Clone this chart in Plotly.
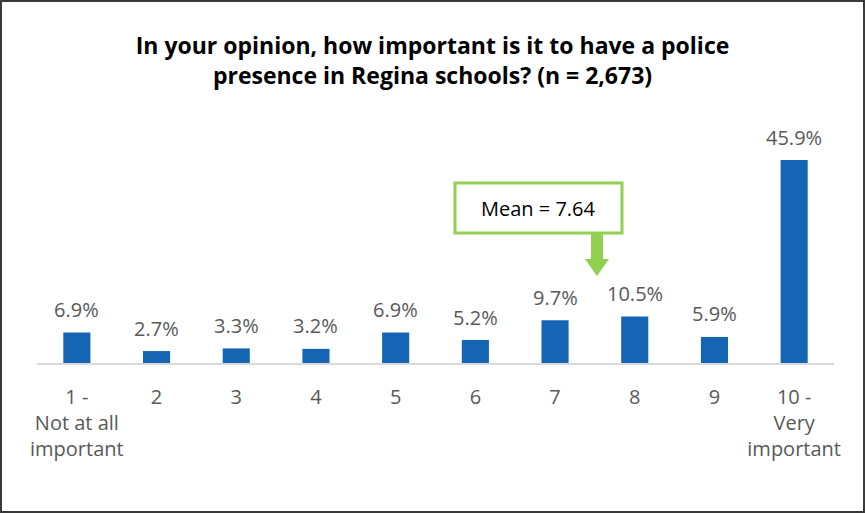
import plotly.graph_objects as go

# Survey responses: share of respondents choosing each rating
categories = ["1 -<br>Not at all<br>important", "2", "3", "4", "5", "6", "7", "8", "9", "10 -<br>Very<br>important"]
percent_values = [6.9, 2.7, 3.3, 3.2, 6.9, 5.2, 9.7, 10.5, 5.9, 45.9]
value_labels = [f"{v:.1f}%" for v in percent_values]
mean_text = "Mean = 7.64"
title_text = "In your opinion, how important is it to have a police<br>presence in Regina schools? (n = 2,673)"

W, H = 865, 514
ML, MR, MT, MB = 37, 31, 142, 151

BAR_BLUE = "#1565B4"
LABEL_GREY = "#595959"
GREEN = "#92D050"
FONT = "Open Sans, sans-serif"

fig = go.Figure()
fig.add_trace(go.Bar(
    x=categories,
    y=percent_values,
    marker=dict(color=BAR_BLUE, line=dict(width=0)),
    hoverinfo="skip",
))


def to_paper(xp, yp):
    return (xp - ML) / (W - ML - MR), 1 - (yp - MT) / (H - MT - MB)


shapes = []
# outer frame
fx0, fy0 = to_paper(1, 1)
fx1, fy1 = to_paper(864, 512)
shapes.append(dict(type="rect", xref="paper", yref="paper", layer="above",
                   x0=fx0, x1=fx1, y0=fy1, y1=fy0,
                   line=dict(color="#3a3a3a", width=2)))

# mean callout box
bx0, by0 = to_paper(455, 183)
bx1, by1 = to_paper(622, 233)
shapes.append(dict(type="rect", xref="paper", yref="paper", x0=bx0, x1=bx1, y0=by1, y1=by0,
                   line=dict(color=GREEN, width=3), fillcolor="white"))

# arrow from the box down towards the mean position
pts = [(591, 234), (603, 234), (603, 259), (609, 259), (597, 276), (585, 259), (591, 259)]
path = ""
for i, (xp, yp) in enumerate(pts):
    px, py = to_paper(xp, yp)
    path += ("M" if i == 0 else "L") + f"{px},{py} "
path += "Z"
shapes.append(dict(type="path", xref="paper", yref="paper", path=path,
                   fillcolor=GREEN, line=dict(color=GREEN, width=0)))

cx, cy = to_paper(538.5, 208)
annotations = [dict(xref="paper", yref="paper", x=cx, y=cy, text=mean_text, showarrow=False,
                    xanchor="center", yanchor="middle",
                    font=dict(family=FONT, size=20, color="#000000"))]

# value labels above each bar (category axis positions by index)
for idx, (val, lab) in enumerate(zip(percent_values, value_labels)):
    annotations.append(dict(x=idx, y=val, xref="x", yref="y", text=lab, showarrow=False,
                            xanchor="center", yanchor="middle", yshift=23,
                            font=dict(family=FONT, size=20, color=LABEL_GREY)))

fig.update_layout(
    width=W, height=H,
    margin=dict(l=ML, r=MR, t=MT, b=MB),
    paper_bgcolor="white",
    plot_bgcolor="white",
    title=dict(text=f"<b>{title_text}</b>", x=0.5, xanchor="center", y=1 - 54 / H, yanchor="middle",
               font=dict(family=FONT, size=23, color="#000000")),
    bargap=0.66,
    showlegend=False,
    shapes=shapes,
    annotations=annotations,
    xaxis=dict(showline=True, linecolor="#D9D9D9", linewidth=2, ticks="", showgrid=False,
               tickfont=dict(family=FONT, size=20, color=LABEL_GREY),
               ticklabelstandoff=15, fixedrange=True),
    yaxis=dict(range=[0, 50], visible=False, showgrid=False, zeroline=False, fixedrange=True),
)

fig.write_html("out.html")
